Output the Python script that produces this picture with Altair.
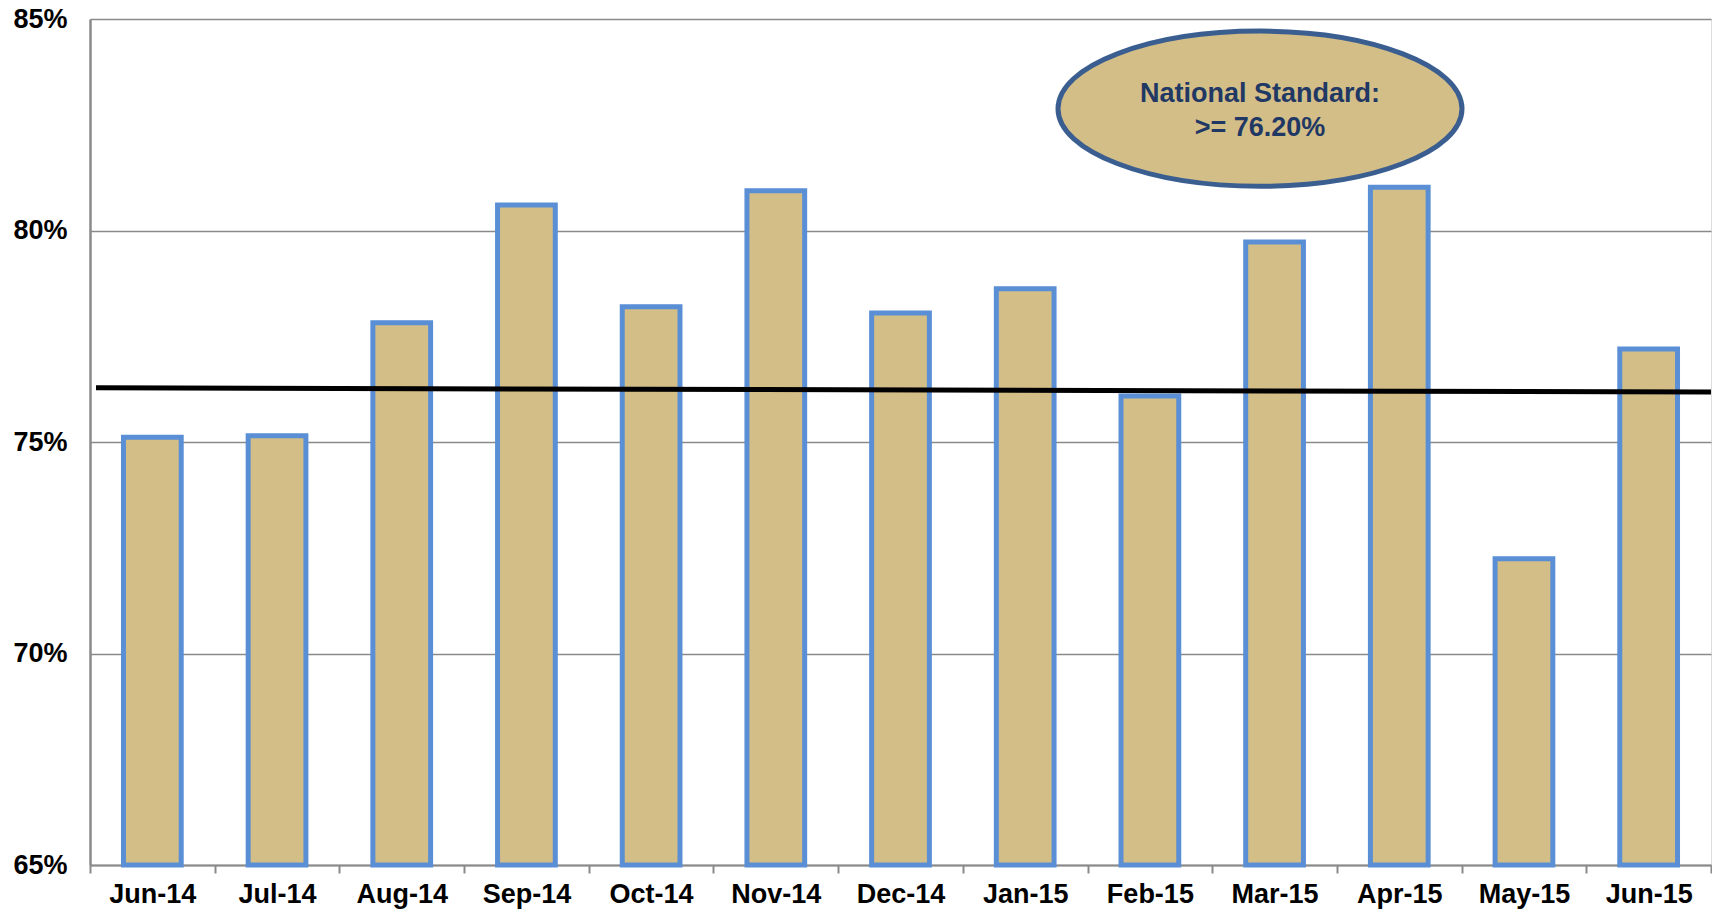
import altair as alt
import pandas as pd

months = ["Jun-14", "Jul-14", "Aug-14", "Sep-14", "Oct-14", "Nov-14", "Dec-14",
          "Jan-15", "Feb-15", "Mar-15", "Apr-15", "May-15", "Jun-15"]
rates = [75.11, 75.15, 77.82, 80.60, 78.20, 80.94, 78.05,
         78.62, 76.09, 79.73, 81.02, 72.24, 77.20]
standard_start = 76.28
standard_end = 76.18
y_ticks = [65, 70, 75, 80, 85]
note_lines = ["National Standard:", ">= 76.20%"]
note_line_y = [83.22, 82.43]
note_center_y = 82.88

FILL = "#D4BE87"
BAR_STROKE = "#5A8FD6"
ELL_STROKE = "#3B5E91"
TEXT_COL = "#1F3864"
GRAY = "#8A8A8A"
FONT = "Liberation Sans"

W, H = 1621, 846

df = pd.DataFrame({"month": months, "rate": rates})
line_df = pd.DataFrame({"y": [standard_start], "y2": [standard_end]})
ell_df = pd.DataFrame({"y": [note_center_y]})
txt_df = pd.DataFrame({"label": note_lines, "y": note_line_y})

yscale = alt.Scale(domain=[65, 85], nice=False, zero=False)

bars = alt.Chart(df).mark_bar(
    width=alt.RelativeBandSize(0.463), fill=FILL, stroke=BAR_STROKE, strokeWidth=5
).encode(
    x=alt.X("month:N", sort=months,
            scale=alt.Scale(paddingInner=0, paddingOuter=0),
            axis=alt.Axis(title=None, labelAngle=0, tickBand="extent",
                          labelFont=FONT, labelFontSize=27, labelFontWeight="bold",
                          labelColor="black", domainColor=GRAY, domainWidth=2,
                          tickColor=GRAY, tickWidth=2, tickSize=8, labelPadding=8,
                          grid=False)),
    y=alt.Y("rate:Q", scale=yscale,
            axis=alt.Axis(title=None, values=y_ticks, labelExpr="datum.value + '%'",
                          labelFont=FONT, labelFontSize=27, labelFontWeight="bold",
                          labelColor="black", ticks=False, labelPadding=23,
                          domainColor=GRAY, domainWidth=2.5,
                          grid=True, gridColor=GRAY, gridWidth=1.5)),
    y2=alt.datum(65),
)

rule = alt.Chart(line_df).mark_rule(color="black", strokeWidth=5).encode(
    x=alt.value(6), x2=alt.value(W),
    y=alt.Y("y:Q", scale=yscale), y2="y2:Q",
)

ellipse_path = "M-1,0A1,0.384,0,1,0,1,0A1,0.384,0,1,0,-1,0Z"
ellipse = alt.Chart(ell_df).mark_point(
    shape=ellipse_path, size=163216, fill=FILL, stroke=ELL_STROKE,
    strokeWidth=5, opacity=1, fillOpacity=1, strokeOpacity=1
).encode(
    x=alt.value(1170),
    y=alt.Y("y:Q", scale=yscale),
)

texts = alt.Chart(txt_df).mark_text(
    font=FONT, fontSize=27, fontWeight="bold", color=TEXT_COL,
    align="center", baseline="middle"
).encode(
    x=alt.value(1170),
    y=alt.Y("y:Q", scale=yscale),
    text="label:N",
)

chart = alt.layer(bars, rule, ellipse, texts).properties(
    width=W, height=H,
    autosize=alt.AutoSizeParams(type="none"),
    padding={"left": 82, "top": 11, "right": 1, "bottom": 47},
).configure_view(
    stroke="#5A85C0", strokeWidth=2
).configure(background="white")

chart.save("out.html", embed_options={"renderer": "svg", "actions": False})
